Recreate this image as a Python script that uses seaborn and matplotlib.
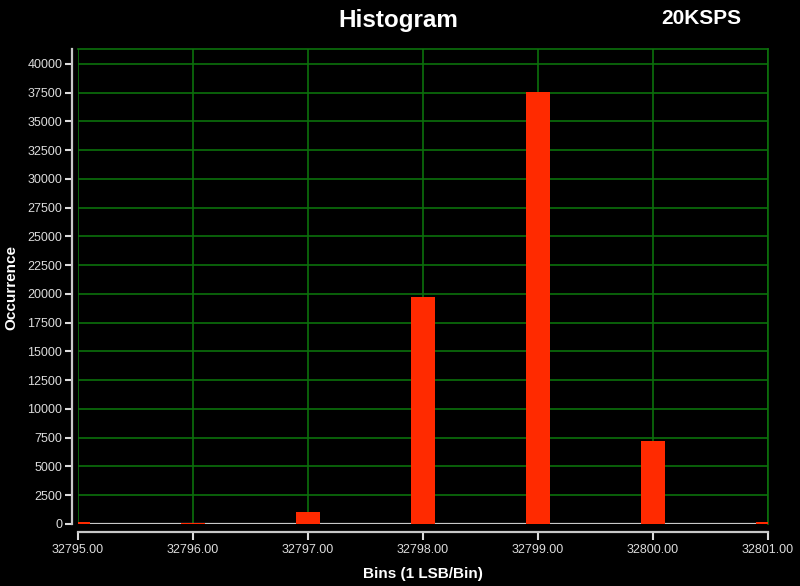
import matplotlib
matplotlib.use("Agg")
import matplotlib.pyplot as plt
import seaborn as sns
import pandas as pd

# ---- data ----
bins = [32795, 32796, 32797, 32798, 32799, 32800, 32801]
counts = [150, 120, 1000, 19700, 37520, 7260, 200]
x_ticks = [32795, 32796, 32797, 32798, 32799, 32800, 32801]
y_ticks = list(range(0, 40001, 2500))
title = "Histogram"
note = "20KSPS"
x_label = "Bins (1 LSB/Bin)"
y_label = "Occurrence"

sns.set_theme(style="dark")
plt.rcParams['font.family'] = ['Liberation Sans', 'DejaVu Sans']

BG = "#000000"
GRID = "#0c700c"
AXC = "#c8c8c8"
TXT = "#dcdcdc"
BAR = "#ff2a00"

fig = plt.figure(figsize=(8, 5.86), dpi=100, facecolor=BG)
ax = fig.add_axes([78/800, 1-524/586, 690/800, 475/586])
ax.set_facecolor(BG)

df = pd.DataFrame({"bin": bins, "count": counts})
sns.barplot(data=df, x="bin", y="count", native_scale=True, width=0.21,
            color=BAR, saturation=1, linewidth=0, ax=ax)
for p in ax.patches:
    p.set_zorder(4)

ax.axhline(0, color=AXC, lw=1.6, zorder=2)

ax.set_xlim(32795, 32801)
ax.set_ylim(0, 41300)
ax.set_xticks(x_ticks)
ax.set_xticklabels([f"{v:.2f}" for v in x_ticks])
ax.set_yticks(y_ticks)
ax.set_yticklabels([str(v) for v in y_ticks])

ax.grid(True, color=GRID, lw=1.2, zorder=0)
ax.set_axisbelow(True)

for side in ("top", "right"):
    ax.spines[side].set_visible(True)
    ax.spines[side].set_color(GRID)
    ax.spines[side].set_linewidth(1.2)
ax.spines["left"].set_position(("outward", 4.3))
ax.spines["bottom"].set_position(("outward", 5.8))
for side in ("left", "bottom"):
    ax.spines[side].set_visible(True)
    ax.spines[side].set_color(AXC)
    ax.spines[side].set_linewidth(1.6)

ax.tick_params(axis="x", colors=TXT, labelsize=9, length=5.8, width=1.5,
               direction="out", pad=3, bottom=True)
ax.tick_params(axis="y", colors=TXT, labelsize=9, length=5, width=1.5,
               direction="out", pad=2, left=True)
for lab in ax.get_xticklabels() + ax.get_yticklabels():
    lab.set_color(TXT)

ax.set_xlabel("")
ax.set_ylabel("")
fig.text(423/800, 1-574/586, x_label, color="white", fontsize=11,
         fontweight="bold", ha="center", va="center")
fig.text(11.5/800, 1-287/586, y_label, color="white", fontsize=11,
         fontweight="bold", ha="center", va="center", rotation=90)
fig.text(398.5/800, 1-20/586, title, color="white", fontsize=17.5,
         fontweight="bold", ha="center", va="center")
fig.text(701/800, 1-19/586, note, color="white", fontsize=15,
         fontweight="bold", ha="center", va="center")

fig.savefig("out.png", dpi=100, facecolor=BG)
